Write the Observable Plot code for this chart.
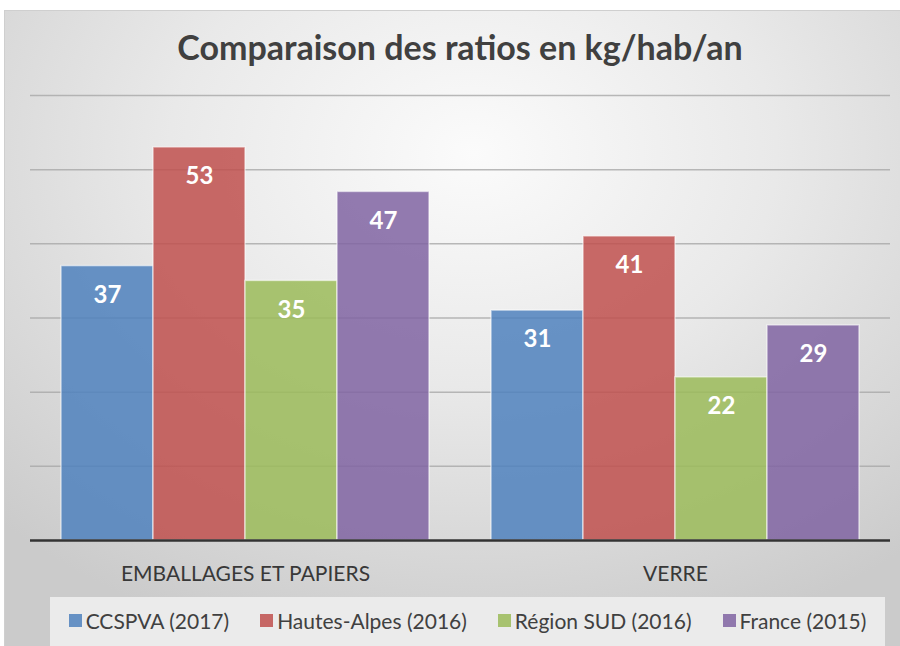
<!DOCTYPE html>
<html>
<head>
<meta charset="utf-8">
<script src="https://cdn.jsdelivr.net/npm/d3@7"></script>
<script src="https://cdn.jsdelivr.net/npm/@observablehq/plot@0.6"></script>
<style>
  html, body { margin: 0; padding: 0; background: #fff; }
  #page { position: relative; width: 900px; height: 646px; overflow: hidden; background: #fff; }
  #panel { position: absolute; left: 4px; top: 10px; width: 900px; height: 646px;
    border-top: 1px solid #cfcfcf; border-left: 1px solid #cfcfcf;
    background: radial-gradient(ellipse 75% 80% at 52% 22%, #fbfbfb 0%, #e9e9e9 45%, #d6d6d6 80%, #cbcbcb 100%); }
  #title { position: absolute; left: 10px; top: 26px; width: 900px; text-align: center; line-height: 42px;
    font-family: Lato, sans-serif; font-weight: 700; font-size: 34px; color: #404040; }
  #chart { position: absolute; left: 0; top: 80px; }
  #legend { position: absolute; left: 50px; top: 597px; width: 835px; height: 50px;
    background: #ebebeb; display: flex; align-items: center; justify-content: center; gap: 31px;
    font-family: Lato, sans-serif; font-size: 21px; color: #404040; padding-bottom: 3px; box-sizing: border-box; }
  .item { display: flex; align-items: center; white-space: nowrap; }
  .sw { width: 13px; height: 13px; margin-right: 4px; }
</style>
</head>
<body>
<div id="page">
  <div id="panel"></div>
  <div id="title">Comparaison des ratios en kg/hab/an</div>
  <div id="chart"></div>
  <div id="legend"></div>
</div>
<script>
const groups = ["EMBALLAGES ET PAPIERS", "VERRE"];
const series = ["CCSPVA (2017)", "Hautes-Alpes (2016)", "Région SUD (2016)", "France (2015)"];
const colors = ["#4F81BD", "#C0504D", "#9BBB59", "#8064A2"];
const emballages = [37, 53, 35, 47];
const verre = [31, 41, 22, 29];
const gridTicks = [10, 20, 30, 40, 50, 60];

const data = [];
series.forEach((s, i) => {
  data.push({group: groups[0], series: s, value: emballages[i]});
  data.push({group: groups[1], series: s, value: verre[i]});
});

const chart = Plot.plot({
  width: 900,
  height: 510,
  marginLeft: 30,
  marginRight: 10,
  marginTop: 15,
  marginBottom: 50,
  style: {background: "transparent", overflow: "visible"},
  fx: {domain: groups, padding: 0, label: null},
  x: {domain: series, paddingInner: 0, paddingOuter: 0.32, axis: null},
  y: {domain: [0, 60], axis: null},
  color: {domain: series, range: colors},
  marks: [
    Plot.ruleY(gridTicks, {stroke: "#a8a8a8", strokeWidth: 1.5, strokeOpacity: 0.8}),
    Plot.barY(data, {fx: "group", x: "series", y: "value", fill: "series", fillOpacity: 0.85,
      stroke: "#ffffff", strokeOpacity: 0.55, strokeWidth: 1.5}),
    Plot.text(data, {fx: "group", x: "series", y: "value", text: d => String(d.value),
      dy: 29, fill: "white", fontSize: 24, fontWeight: "bold", fontFamily: "Lato, sans-serif"}),
    Plot.ruleY([0], {stroke: "#333", strokeWidth: 2.5}),
    Plot.axisFx({anchor: "bottom", tickSize: 0, tickPadding: 26, label: null,
      fontSize: 21, fontFamily: "Lato, sans-serif", fill: "#383838"})
  ]
});
document.getElementById("chart").appendChild(chart);

const legend = document.getElementById("legend");
series.forEach((s, i) => {
  const it = document.createElement("div");
  it.className = "item";
  const sw = document.createElement("div");
  sw.className = "sw";
  sw.style.background = colors[i];
  sw.style.opacity = 0.85;
  const tx = document.createElement("span");
  tx.textContent = s;
  it.appendChild(sw); it.appendChild(tx);
  legend.appendChild(it);
});
</script>
</body>
</html>
